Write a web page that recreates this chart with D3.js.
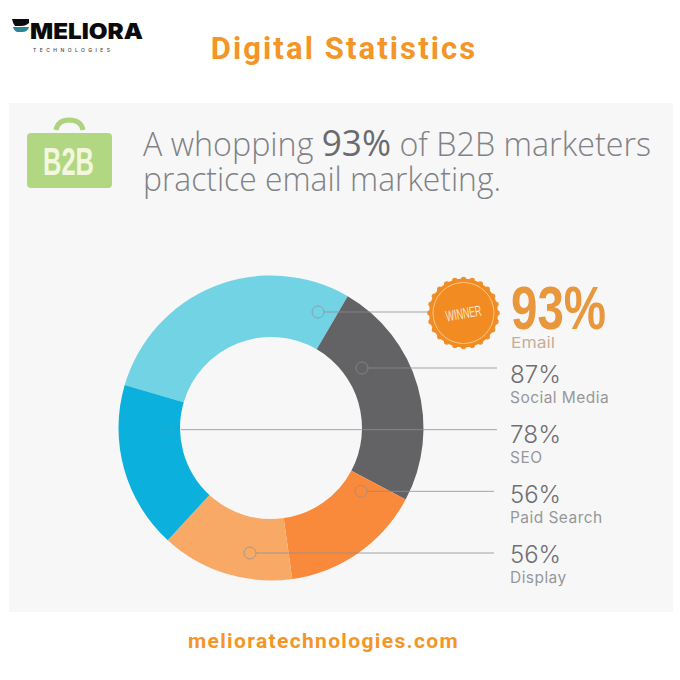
<!DOCTYPE html>
<html>
<head>
<meta charset="utf-8">
<script src="https://cdn.jsdelivr.net/npm/d3@7"></script>
<style>
  body { margin: 0; background: #fff; }
  svg { display: block; }
</style>
</head>
<body>
<div id="chart"></div>
<script>
// data
var categories = ["Email", "Social Media", "SEO", "Paid Search", "Display"];
var percentLabels = ["93%", "87%", "78%", "56%", "56%"];
// the ring is not drawn in proportion to the labels, so these are the slice shares as drawn
var sliceShares = [103.8, 87.8, 63.8, 54, 50.6];
// order of the slices going clockwise round the ring
var ringOrder = ["Email", "Social Media", "Paid Search", "Display", "SEO"];

var sliceColors = {
    "Email": "#72d3e4",
    "Social Media": "#636265",
    "Paid Search": "#fa8a3b",
    "Display": "#f8a966",
    "SEO": "#0bb1dc"
};

var svgWidth = 680;
var svgHeight = 680;
var orange = "#f39527";

var svg = d3.select("#chart")
    .append("svg")
    .attr("width", svgWidth)
    .attr("height", svgHeight);

// grey panel
svg.append("rect")
    .attr("x", 9).attr("y", 103)
    .attr("width", 664).attr("height", 509)
    .attr("fill", "#f7f7f8");

// page title and footer
svg.append("text")
    .attr("x", 344).attr("y", 59)
    .attr("text-anchor", "middle")
    .attr("font-family", "Roboto")
    .attr("font-weight", 700)
    .attr("font-size", 31)
    .attr("letter-spacing", 2.1)
    .attr("fill", orange)
    .text("Digital Statistics");

svg.append("text")
    .attr("x", 323.5).attr("y", 648)
    .attr("text-anchor", "middle")
    .attr("font-family", "Roboto")
    .attr("font-weight", 700)
    .attr("font-size", 21)
    .attr("letter-spacing", 1.35)
    .attr("fill", orange)
    .text("melioratechnologies.com");

// logo
var logo = svg.append("g");
logo.append("path")
    .attr("d", "M12,19 H29 L29,23 Q26,26 21,26 H15 Q13,24 12,19 Z")
    .attr("fill", "#0b0b0d");
logo.append("path")
    .attr("d", "M13,27 H29 Q28,32 22,32 H17 Q14,31 13,27 Z")
    .attr("fill", "#2b8594");
logo.append("text")
    .attr("x", 30).attr("y", 39)
    .attr("font-family", "Inter, Roboto")
    .attr("font-weight", 900)
    .attr("font-size", 22)
    .attr("fill", "#0b0b0d")
    .attr("textLength", 113)
    .attr("lengthAdjust", "spacingAndGlyphs")
    .text("MELIORA");
logo.append("text")
    .attr("x", 33).attr("y", 51.5)
    .attr("font-family", "Inter, Roboto")
    .attr("font-weight", 500)
    .attr("font-size", 5)
    .attr("fill", "#444")
    .attr("textLength", 77)
    .text("TECHNOLOGIES");

// B2B briefcase
var briefcase = svg.append("g");
briefcase.append("path")
    .attr("d", "M56,130 Q58,120 69,120 Q81,120 83,130")
    .attr("fill", "none")
    .attr("stroke", "#aed37f")
    .attr("stroke-width", 5);
briefcase.append("rect")
    .attr("x", 27).attr("y", 133)
    .attr("width", 85).attr("height", 55)
    .attr("rx", 4)
    .attr("fill", "#b2d782");
briefcase.append("text")
    .attr("x", 43).attr("y", 175)
    .attr("font-family", "'Liberation Sans'")
    .attr("font-weight", 700)
    .attr("font-size", 39)
    .attr("fill", "#f3f7df")
    .attr("textLength", 51)
    .attr("lengthAdjust", "spacingAndGlyphs")
    .text("B2B");

// headline
var headline = svg.append("g")
    .attr("font-family", "'Open Sans'")
    .attr("font-weight", 300)
    .attr("font-size", 33)
    .attr("fill", "#808286");

var line1 = headline.append("text")
    .attr("x", 143).attr("y", 156)
    .attr("textLength", 508)
    .attr("lengthAdjust", "spacingAndGlyphs");
line1.append("tspan").text("A whopping ");
line1.append("tspan")
    .attr("font-weight", 500)
    .attr("font-size", 36)
    .attr("fill", "#6a6b6e")
    .text("93%");
line1.append("tspan").text(" of B2B marketers");

headline.append("text")
    .attr("x", 143).attr("y", 191)
    .attr("textLength", 358)
    .attr("lengthAdjust", "spacingAndGlyphs")
    .text("practice email marketing.");

// donut
var cx = 271;
var cy = 428;

var pie = d3.pie()
    .value(function(d) { return sliceShares[categories.indexOf(d)]; })
    .sort(null)
    .startAngle(-73.6 * Math.PI / 180)
    .endAngle(286.4 * Math.PI / 180);

var arc = d3.arc()
    .innerRadius(91)
    .outerRadius(152.5);

var ring = svg.append("g")
    .attr("transform", `translate(${cx}, ${cy})`);

ring.selectAll("path")
    .data(pie(ringOrder))
    .enter()
    .append("path")
    .attr("d", arc)
    .attr("fill", function(d) { return sliceColors[d.data]; });

// rows on the right
var lineY = d3.scalePoint()
    .domain(categories.slice(1))
    .range([368, 553]);

var textY = d3.scalePoint()
    .domain(categories.slice(1))
    .range([383, 563]);

function leaderY(name) {
    return name === "Email" ? 312 : lineY(name);
}

var markerX = { "Email": 318, "Social Media": 362, "SEO": 167, "Paid Search": 361, "Display": 250 };
var leaderStart = { "Email": 324, "Social Media": 368, "SEO": 181, "Paid Search": 367, "Display": 256 };
var leaderEnd = { "Email": 430, "Social Media": 497, "SEO": 497, "Paid Search": 494, "Display": 494 };

var leaders = svg.append("g");
leaders.selectAll("line")
    .data(categories)
    .enter()
    .append("line")
    .attr("x1", function(d) { return leaderStart[d]; })
    .attr("x2", function(d) { return leaderEnd[d]; })
    .attr("y1", leaderY)
    .attr("y2", leaderY)
    .attr("stroke", "#8c8e92")
    .attr("stroke-opacity", 0.8)
    .attr("stroke-width", 1);

leaders.selectAll("circle")
    .data(categories)
    .enter()
    .append("circle")
    .attr("cx", function(d) { return markerX[d]; })
    .attr("cy", leaderY)
    .attr("r", 6)
    .attr("fill", "none")
    .attr("stroke", "#8c8e92")
    .attr("stroke-opacity", function(d) { return d === "SEO" ? 0.25 : 0.7; })
    .attr("stroke-width", 1);

// winner badge
var badge = svg.append("g")
    .attr("transform", "translate(463.5, 313)");

badge.selectAll("circle.scallop")
    .data(d3.range(24))
    .enter()
    .append("circle")
    .attr("class", "scallop")
    .attr("cx", function(d) { return 33.5 * Math.cos(d / 24 * 2 * Math.PI); })
    .attr("cy", function(d) { return 33.5 * Math.sin(d / 24 * 2 * Math.PI); })
    .attr("r", 2.8)
    .attr("fill", "#ee9135");
badge.append("circle")
    .attr("r", 34.5)
    .attr("fill", "#f28c22");
badge.append("circle")
    .attr("r", 30.5)
    .attr("fill", "none")
    .attr("stroke", "#f9c88a")
    .attr("stroke-width", 1);
badge.append("text")
    .attr("transform", "rotate(-10)")
    .attr("x", -18)
    .attr("y", 5.5)
    .attr("font-family", "'Liberation Sans'")
    .attr("font-size", 15)
    .attr("fill", "#fbe7cf")
    .attr("textLength", 36)
    .attr("lengthAdjust", "spacingAndGlyphs")
    .text("WINNER");

// big Email number
svg.append("text")
    .attr("x", 511).attr("y", 329)
    .attr("font-family", "'Liberation Sans'")
    .attr("font-weight", 700)
    .attr("font-size", 61)
    .attr("fill", "#e8973d")
    .attr("textLength", 95)
    .attr("lengthAdjust", "spacingAndGlyphs")
    .text(percentLabels[0]);

svg.append("text")
    .attr("x", 511).attr("y", 348)
    .attr("font-family", "Inter")
    .attr("font-size", 15)
    .attr("fill", "#c7ae95")
    .attr("textLength", 44)
    .attr("lengthAdjust", "spacingAndGlyphs")
    .text(categories[0]);

// the other rows
var rows = svg.append("g")
    .selectAll("g")
    .data(categories.slice(1))
    .enter()
    .append("g");

rows.append("text")
    .attr("x", 510)
    .attr("y", function(d) { return textY(d); })
    .attr("font-family", "Inter")
    .attr("font-weight", 300)
    .attr("font-size", 24)
    .attr("fill", "#6f7074")
    .attr("textLength", 51)
    .attr("lengthAdjust", "spacingAndGlyphs")
    .text(function(d) { return percentLabels[categories.indexOf(d)]; });

rows.append("text")
    .attr("x", 510)
    .attr("y", function(d) { return textY(d) + 20; })
    .attr("font-family", "Inter")
    .attr("font-size", 15.5)
    .attr("letter-spacing", 0.45)
    .attr("fill", "#96979b")
    .text(function(d) { return d; });
</script>
</body>
</html>
